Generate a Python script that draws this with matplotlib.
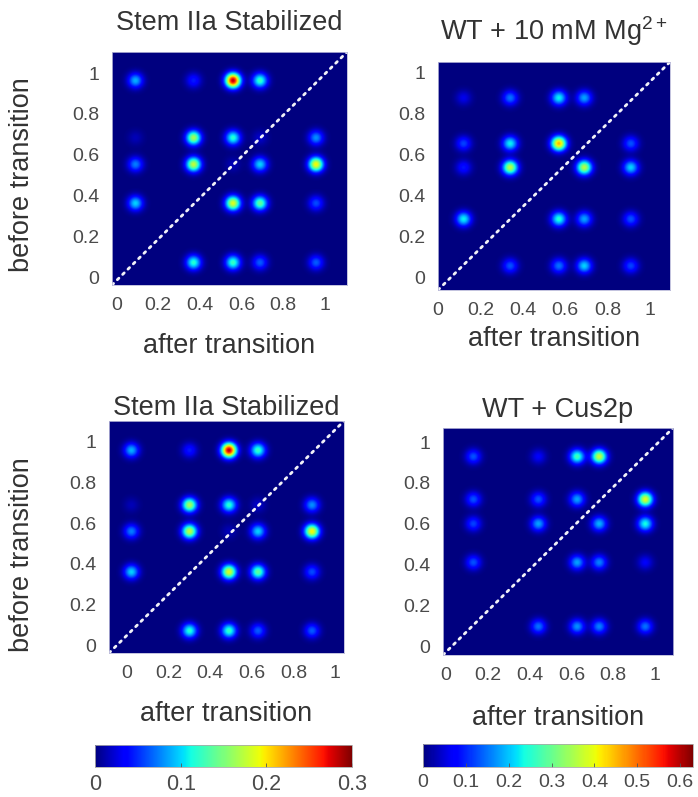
import numpy as np
import matplotlib
matplotlib.use("Agg")
import matplotlib.pyplot as plt
from matplotlib.cm import ScalarMappable
from matplotlib.colors import Normalize

plt.rcParams['font.family'] = ['Liberation Sans', 'DejaVu Sans']
plt.rcParams['mathtext.fontset'] = 'custom'
plt.rcParams['mathtext.rm'] = 'Liberation Sans'

# ---------------- data ----------------
titles = ["Stem IIa Stabilized", r"WT + 10 mM Mg$^{\mathregular{2+}}$",
          "Stem IIa Stabilized", "WT + Cus2p"]

# Stem IIa stabilized: peak heights, rows = before (top->bottom), cols = after
stem_peaks = [
    [0.090, 0.045, 0.285, 0.125, 0.000],
    [0.015, 0.165, 0.120, 0.020, 0.080],
    [0.075, 0.175, 0.015, 0.100, 0.195],
    [0.100, 0.000, 0.185, 0.140, 0.060],
    [0.000, 0.120, 0.125, 0.065, 0.065],
]
p1_after = [0.09, 0.37, 0.56, 0.69, 0.96]
p1_before = [0.96, 0.68, 0.55, 0.36, 0.07]
p3_after = [0.02, 0.30, 0.49, 0.63, 0.89]
p3_before = [0.96, 0.69, 0.56, 0.36, 0.07]

mg_peaks = [
    [0.06, 0.15, 0.23, 0.18, 0.00],
    [0.12, 0.23, 0.45, 0.00, 0.13],
    [0.09, 0.36, 0.00, 0.36, 0.21],
    [0.23, 0.00, 0.25, 0.18, 0.13],
    [0.00, 0.13, 0.15, 0.21, 0.12],
]
p2_after = [0.12, 0.34, 0.57, 0.69, 0.91]
p2_before = [0.875, 0.652, 0.535, 0.283, 0.054]

cus_peaks = [
    [0.13, 0.07, 0.27, 0.37, 0.00],
    [0.13, 0.13, 0.18, 0.00, 0.39],
    [0.12, 0.18, 0.00, 0.19, 0.24],
    [0.13, 0.00, 0.18, 0.16, 0.07],
    [0.00, 0.15, 0.17, 0.16, 0.15],
]
p4_after = [0.13, 0.44, 0.625, 0.73, 0.95]
p4_before = [0.93, 0.72, 0.60, 0.41, 0.095]

axis_ticks = [0, 0.2, 0.4, 0.6, 0.8, 1]
axis_ticklabels = ["0", "0.2", "0.4", "0.6", "0.8", "1"]
cbar1_ticks = [0, 0.1, 0.2, 0.3]
cbar2_ticks = [0, 0.1, 0.2, 0.3, 0.4, 0.5, 0.6]
scale1_max = 0.3
scale2_max = 0.63

# ---------------- layout ----------------
W, H = 698, 797
fig = plt.figure(figsize=(W / 100, H / 100), dpi=100)

def px_axes(x0, y0, x1, y1):
    return fig.add_axes([x0 / W, 1 - y1 / H, (x1 - x0) / W, (y1 - y0) / H])

panels = [
    dict(box=(112, 52, 347, 285), xlim=(-0.022, 1.108), ylim=(-0.039, 1.103),
         after=p1_after, before=p1_before, peaks=stem_peaks, vmax=scale1_max,
         title_pad=16, xl_pad=13, ylabel=True),
    dict(box=(438, 62, 670, 290), xlim=(0.0, 1.094), ylim=(-0.063, 1.049),
         after=p2_after, before=p2_before, peaks=mg_peaks, vmax=scale2_max,
         title_pad=16, xl_pad=5, ylabel=False),
    dict(box=(109, 421, 344, 653), xlim=(-0.087, 1.043), ylim=(-0.039, 1.103),
         after=p3_after, before=p3_before, peaks=stem_peaks, vmax=scale1_max,
         title_pad=4, xl_pad=13, ylabel=True),
    dict(box=(443, 428, 673, 655), xlim=(-0.014, 1.086), ylim=(-0.044, 1.069),
         after=p4_after, before=p4_before, peaks=cus_peaks, vmax=scale2_max,
         title_pad=8, xl_pad=15, ylabel=False),
]

text_col = '#333333'
tick_col = '#4a4a4a'
sigma = 0.025

for title, p in zip(titles, panels):
    ax = px_axes(*p['box'])
    x0, x1 = p['xlim']
    y0, y1 = p['ylim']
    gx = np.linspace(x0, x1, 500)
    gy = np.linspace(y0, y1, 500)
    GX, GY = np.meshgrid(gx, gy)
    Z = np.zeros_like(GX)
    for i, yb in enumerate(p['before']):
        for j, xa in enumerate(p['after']):
            h = p['peaks'][i][j]
            if h > 0:
                Z += h * np.exp(-((GX - xa) ** 2 + (GY - yb) ** 2) / (2 * sigma ** 2))
    ax.imshow(Z, origin='lower', extent=(x0, x1, y0, y1), cmap='jet',
              vmin=0, vmax=p['vmax'], aspect='auto', interpolation='bilinear')
    ax.plot([0, 1], [0, 1], transform=ax.transAxes, color='white',
            linewidth=2.0, linestyle=(0, (0.8, 1.9)),
            dash_capstyle='round', alpha=0.95)
    ax.set_xlim(x0, x1)
    ax.set_ylim(y0, y1)
    ax.set_xticks(axis_ticks)
    ax.set_xticklabels(axis_ticklabels)
    ax.set_yticks(axis_ticks)
    ax.set_yticklabels(axis_ticklabels)
    ax.tick_params(length=0, pad=9, labelsize=14, labelcolor=tick_col)
    for s in ax.spines.values():
        s.set_color('#b8b8d8')
        s.set_linewidth(0.6)
    ax.set_title(title, fontsize=19.5, color=text_col, pad=p['title_pad'])
    ax.set_xlabel("after transition", fontsize=19.5, color=text_col,
                  labelpad=p['xl_pad'])

fig.text(22 / W, 1 - 175 / H, "before transition", rotation=90, fontsize=19.5,
         color=text_col, ha='center', va='center')
fig.text(22 / W, 1 - 555 / H, "before transition", rotation=90, fontsize=19.5,
         color=text_col, ha='center', va='center')

# ---------------- colorbars ----------------
for box, vmax, ticks, lsize in [((95, 745, 352, 767), scale1_max, cbar1_ticks, 15.5),
                                ((423, 744, 693, 767), scale2_max, cbar2_ticks, 14)]:
    cax = px_axes(*box)
    sm = ScalarMappable(norm=Normalize(0, vmax), cmap='jet')
    cb = fig.colorbar(sm, cax=cax, orientation='horizontal', ticks=ticks)
    cb.ax.set_xticklabels([f"{t:g}" for t in ticks])
    cb.ax.tick_params(direction='in', length=3, width=0.6, color='#555555',
                      labelsize=lsize, labelcolor=tick_col, pad=5)
    cb.outline.set_edgecolor('#aaaaaa')
    cb.outline.set_linewidth(0.6)

fig.savefig("out.png", dpi=100)
